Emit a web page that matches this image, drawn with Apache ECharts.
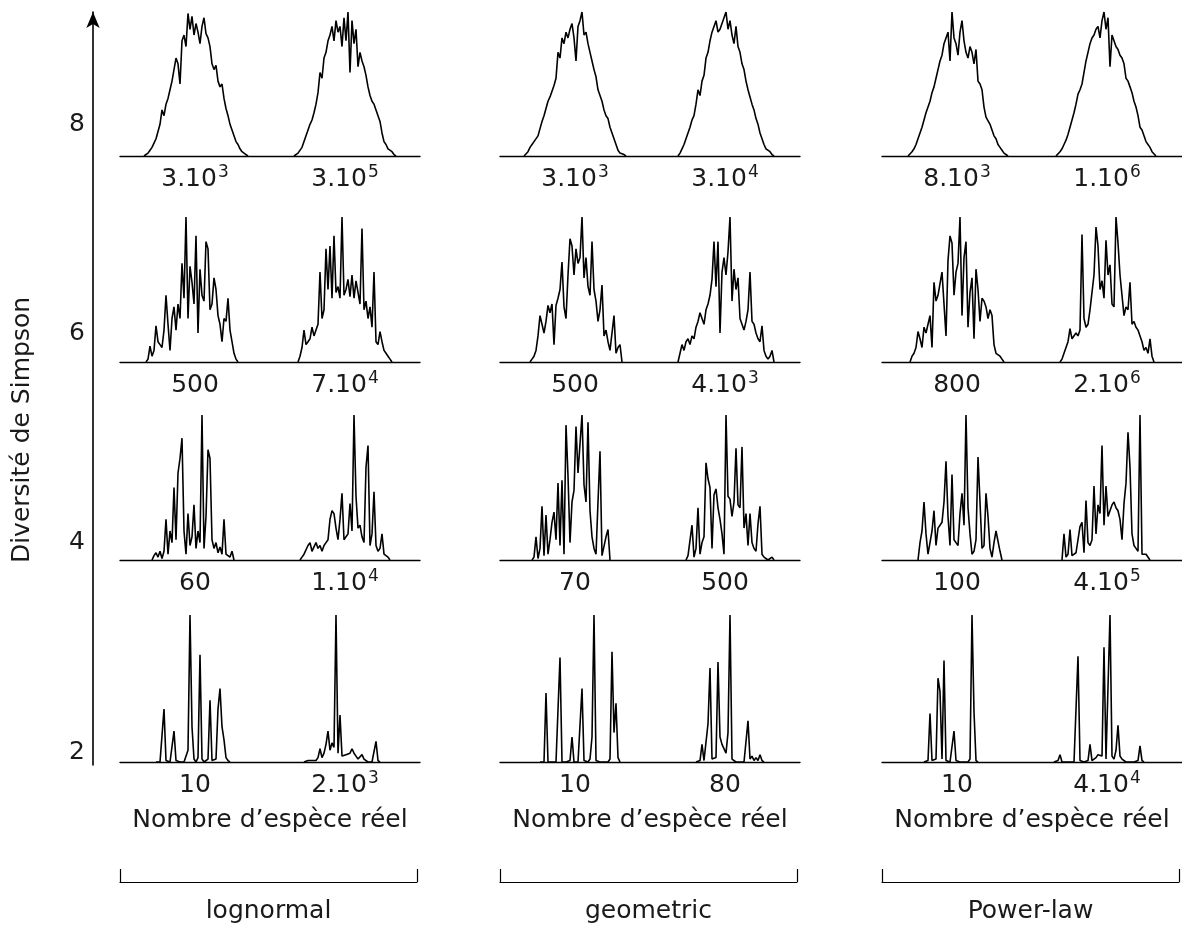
<!DOCTYPE html>
<html><head><meta charset="utf-8">
<script src="https://cdn.jsdelivr.net/npm/echarts@6/dist/echarts.min.js"></script>
<style>html,body{margin:0;padding:0;background:#fff}#c{width:1182px;height:925px}</style>
</head><body><div id="c"></div>
<script>
// ---------------- DATA ----------------
const groups = ['lognormal', 'geometric', 'Power-law'];
const yTicks = [2, 4, 6, 8];
const xTitle = 'Nombre d’espèce réel';
const yTitle = 'Diversité de Simpson';

// labels under each histogram (rows top -> bottom, [left, right]); "^" marks an exponent
const lognormalLabels = [['3.10^3', '3.10^5'], ['500', '7.10^4'], ['60', '1.10^4'], ['10', '2.10^3']];
const geometricLabels = [['3.10^3', '3.10^4'], ['500', '4.10^3'], ['70', '500'], ['10', '80']];
const powerlawLabels  = [['8.10^3', '1.10^6'], ['800', '2.10^6'], ['100', '4.10^5'], ['10', '4.10^4']];

// first bin of each histogram (bins 0..150 across each panel)
const lognormalStart = [[12, 87], [13, 89], [16, 90], [18, 92]];
const geometricStart = [[12, 89], [15, 89], [16, 93], [20, 98]];
const powerlawStart  = [[13, 87], [14, 89], [18, 90], [21, 86]];

// relative frequencies (0-100) per bin
const lognormalLeft = [
  [0,1,2,4,6,9,12,17,22,32,28,36,40,46,52,60,68,64,50,80,84,76,99,88,97,84,92,86,78,90,96,85,82,76,64,60,63,52,48,50,40,33,28,22,18,14,10,8,5,3,2,1,0],
  [0,2,11,4,8,25,14,12,10,22,46,26,8,30,38,22,40,30,68,44,100,30,66,55,40,87,20,64,46,42,83,78,36,40,58,50,32,26,14,30,28,44,22,14,6,2,0],
  [0,3,5,2,6,1,6,28,4,20,12,50,14,60,70,84,20,4,32,10,16,38,8,20,12,100,8,30,76,70,14,8,12,5,9,4,28,4,3,2,6,0],
  [0,0,0,1,36,1,0,0,1,21,1,0,0,0,0,1,8,100,24,2,0,3,73,2,0,0,2,42,1,0,2,36,50,24,15,3,1,0]
];
const lognormalRight = [
  [0,1,2,3,6,10,14,18,22,25,30,36,44,58,54,68,72,80,84,90,80,94,86,90,76,96,80,100,58,94,78,88,62,72,66,62,56,48,42,38,36,32,28,24,16,10,8,5,4,3,1,0],
  [0,4,10,22,12,14,16,24,18,22,26,62,30,36,78,50,80,44,87,48,52,44,100,46,50,57,45,60,44,56,48,40,92,36,42,30,38,24,62,14,12,21,14,8,6,4,2,0],
  [0,2,4,3,10,12,6,9,12,8,10,6,10,12,14,28,34,32,22,14,28,46,14,16,18,39,20,100,44,22,24,16,12,64,79,10,18,47,10,6,8,18,4,3,2,0],
  [0,0,1,2,1,0,1,3,9,3,6,12,21,8,13,10,100,6,32,4,3,5,4,6,9,6,4,2,3,5,2,1,0,1,0,0,14,1,0]
];
const geometricLeft = [
  [0,1,3,6,8,10,11,14,19,24,28,33,38,41,45,49,54,72,68,82,78,86,82,88,92,82,66,90,94,100,84,86,78,72,66,60,55,46,42,38,32,28,26,20,16,12,8,4,2,2,1,0],
  [0,2,4,8,18,32,26,20,28,39,34,40,12,39,44,50,69,38,30,60,85,80,60,78,68,72,100,58,72,52,46,83,50,42,28,36,53,18,22,14,8,20,32,6,10,12,0],
  [0,2,16,1,8,37,3,31,4,14,26,33,14,53,10,55,4,93,58,12,40,48,92,60,80,100,52,40,95,34,16,8,4,40,75,3,2,16,21,0],
  [0,0,0,47,0,0,0,0,0,0,71,0,0,0,0,1,17,0,0,0,1,50,1,0,0,2,17,100,1,0,0,0,0,0,0,2,75,20,40,3,0]
];
const geometricRight = [
  [0,2,5,8,12,16,20,25,28,36,46,42,52,56,68,72,80,86,90,94,86,88,92,96,100,88,94,84,78,90,76,72,64,60,52,46,41,36,32,26,22,16,12,8,5,4,3,1,0],
  [0,6,12,8,14,16,12,18,16,24,28,34,30,26,36,40,46,57,83,52,83,20,62,72,60,76,100,42,64,50,58,30,26,22,28,36,62,28,26,20,16,14,25,8,4,2,4,8,0],
  [0,3,4,24,2,8,36,4,12,16,67,56,50,8,45,49,36,28,18,4,100,44,42,30,40,77,38,36,78,22,32,10,32,12,8,6,25,37,4,2,1,0,0,2,0],
  [0,0,1,12,1,2,26,64,2,1,3,68,17,12,11,6,20,100,2,1,0,0,0,0,0,1,28,2,4,1,3,1,5,1,0]
];
const powerlawLeft = [
  [0,1,3,5,8,12,16,20,25,30,34,38,44,48,54,60,66,70,78,82,86,66,100,82,78,70,86,94,80,72,68,76,72,64,74,52,50,46,34,27,26,22,18,14,12,8,6,4,2,1,0],
  [0,4,6,10,21,16,10,24,20,26,32,10,55,42,46,54,62,40,18,70,87,82,46,62,68,100,32,72,83,24,48,58,16,64,50,28,44,42,38,30,36,32,12,6,5,4,2,0],
  [0,12,20,40,18,4,12,20,34,10,22,24,26,40,68,30,10,59,14,12,10,32,46,24,100,36,18,4,6,14,71,40,8,10,46,30,8,2,12,20,21,6,0],
  [0,0,1,33,1,0,2,57,48,2,69,1,0,0,1,21,1,0,0,0,0,0,0,2,100,34,1,0]
];
const powerlawRight = [
  [0,1,3,5,8,11,15,20,25,30,36,43,46,50,58,66,72,78,82,84,88,90,82,94,100,88,96,62,84,80,76,74,70,68,64,54,52,48,44,38,34,28,20,18,14,10,8,6,3,2,0],
  [0,2,6,10,14,23,16,17,20,18,22,88,30,24,26,36,48,60,93,80,50,56,44,84,60,67,40,38,100,82,60,46,32,38,36,55,26,28,24,22,18,14,8,10,6,16,4,0],
  [0,18,2,4,21,3,4,5,6,23,26,5,41,12,10,14,51,18,38,32,79,24,51,30,34,38,40,36,34,28,14,39,53,88,64,18,10,8,6,100,4,3,4,3,0],
  [0,0,1,5,0,0,0,0,0,0,0,0,72,1,0,0,0,1,12,1,1,3,5,6,4,78,2,3,100,4,2,8,25,4,2,1,0,0,0,0,0,1,1,11,1,0]
];

// ---------------- LAYOUT / STYLE ----------------
const FONT = 'DejaVu Sans';
const TXT = '#1a1a1a';
const FS = 25;
const groupLeft = [120, 500, 882];
const panelWidth = 300;
const rowBox = [[12, 144], [217, 145], [415, 145], [615, 147]]; // top, height
const groupSets = [
  {labels: lognormalLabels, start: lognormalStart, L: lognormalLeft, R: lognormalRight},
  {labels: geometricLabels, start: geometricStart, L: geometricLeft, R: geometricRight},
  {labels: powerlawLabels,  start: powerlawStart,  L: powerlawLeft,  R: powerlawRight}
];

function richLabel(v) {
  const p = String(v).split('^');
  return p.length > 1 ? '{n|' + p[0] + '}{s|' + p[1] + '}' : '{n|' + p[0] + '}';
}
const rich = {
  n: {fontFamily: FONT, fontSize: FS, color: TXT, lineHeight: 30},
  s: {fontFamily: FONT, fontSize: 17, color: TXT, verticalAlign: 'top', lineHeight: 30, padding: [0, 0, 0, 1]}
};

const grid = [], xAxis = [], yAxis = [], series = [];

groupSets.forEach((gs, g) => {
  for (let r = 0; r < 4; r++) {
    const gi = grid.length;
    grid.push({left: groupLeft[g], width: panelWidth, top: rowBox[r][0], height: rowBox[r][1]});
    xAxis.push({type: 'value', gridIndex: gi, min: 0, max: 150, show: false});
    const cat = {
      type: 'category', gridIndex: gi, position: 'bottom', data: gs.labels[r], boundaryGap: true,
      axisLine: {show: true, lineStyle: {color: '#000', width: 1.3}},
      axisTick: {show: false},
      axisLabel: {interval: 0, margin: 8, formatter: richLabel, rich: rich}
    };
    if (r === 3) {
      cat.name = xTitle; cat.nameLocation = 'middle'; cat.nameGap = 46;
      cat.nameTextStyle = {fontFamily: FONT, fontSize: FS, color: TXT};
    }
    xAxis.push(cat);
    yAxis.push({type: 'value', gridIndex: gi, min: 0, max: 100, show: false});
    [gs.L[r], gs.R[r]].forEach((arr, k) => {
      const s0 = gs.start[r][k];
      series.push({
        type: 'line', xAxisIndex: 2 * gi, yAxisIndex: gi, showSymbol: false, symbol: 'none',
        silent: true, animation: false, z: 3,
        lineStyle: {color: '#000', width: 1.6},
        data: arr.map((v, i) => [s0 + i, v])
      });
    });
  }
});

// main Simpson diversity axis
const gMain = grid.length;
grid.push({left: 93, width: 1, top: 12, bottom: 160});
xAxis.push({type: 'value', gridIndex: gMain, show: false});
yAxis.push({
  type: 'value', gridIndex: gMain, min: 1.876, max: 9.08, position: 'left',
  axisLine: {show: true, symbol: ['none', 'arrow'], symbolSize: [10, 16], lineStyle: {color: '#000', width: 1.6}},
  axisTick: {show: false}, splitLine: {show: false},
  axisLabel: {customValues: yTicks, margin: 8, fontFamily: FONT, fontSize: FS, color: TXT}
});

// group brackets with names
groups.forEach((name, g) => {
  const gi = grid.length;
  grid.push({left: groupLeft[g], width: 297, top: 868, height: 14});
  xAxis.push({
    type: 'category', gridIndex: gi, data: [name], boundaryGap: true, position: 'bottom',
    axisLine: {show: true, lineStyle: {color: '#000', width: 1.2}},
    axisTick: {show: true, inside: true, length: 13, lineStyle: {color: '#000', width: 1.2}},
    axisLabel: {margin: 17, fontFamily: FONT, fontSize: FS, color: TXT}
  });
  yAxis.push({type: 'value', gridIndex: gi, show: false});
});

const chart = echarts.init(document.getElementById('c'));
chart.setOption({
  animation: false,
  backgroundColor: '#fff',
  grid, xAxis, yAxis, series,
  graphic: [{
    type: 'text', x: 22, y: 430, rotation: Math.PI / 2,
    style: {text: yTitle, fontFamily: FONT, fontSize: FS, fill: TXT, align: 'center', verticalAlign: 'middle'}
  }]
});
</script>
</body></html>
